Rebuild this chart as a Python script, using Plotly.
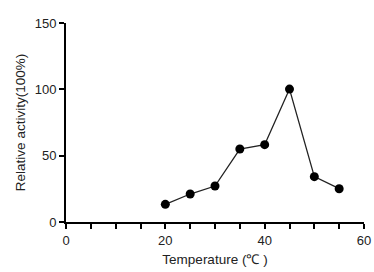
import plotly.graph_objects as go

temperature = [20, 25, 30, 35, 40, 45, 50, 55]
activity = [13.3, 21.1, 27.1, 55.0, 58.3, 100.2, 34.2, 25.1]
x_tickvals = list(range(0, 61, 5))
x_ticktext = [str(v) if v % 20 == 0 else "" for v in x_tickvals]
y_tickvals = [0, 50, 100, 150]

fig = go.Figure(go.Scatter(
    x=temperature, y=activity, mode="lines+markers",
    line=dict(color="#222222", width=1.3),
    marker=dict(color="black", size=9),
    cliponaxis=False,
))

fam = "Arial"
tick_font = dict(family=fam, size=13, color="#222222")
title_font = dict(family=fam, size=13.5, color="#222222")
fig.update_layout(
    width=374, height=272,
    margin=dict(l=66, r=10, t=23, b=50),
    paper_bgcolor="white", plot_bgcolor="white",
    font=tick_font, showlegend=False,
)
fig.update_xaxes(
    range=[0, 60], tickvals=x_tickvals, ticktext=x_ticktext, tickfont=tick_font,
    showline=True, linecolor="black", linewidth=2, ticks="outside",
    ticklen=5, tickwidth=2, tickcolor="black", showgrid=False, zeroline=False,
    title=dict(text="Temperature (℃ )", standoff=8, font=title_font), automargin=False,
)
fig.update_yaxes(
    range=[0, 150], tickvals=y_tickvals, tickfont=tick_font,
    showline=True, linecolor="black", linewidth=2, ticks="outside",
    ticklen=5, tickwidth=2, tickcolor="black", showgrid=False, zeroline=False,
    title=dict(text="Relative activity(100%)", standoff=6, font=title_font), automargin=False,
)
fig.write_html(
    "out.html",
    config={"displayModeBar": False},
    post_script="document.body.style.margin='0';document.body.style.overflow='hidden';",
)
